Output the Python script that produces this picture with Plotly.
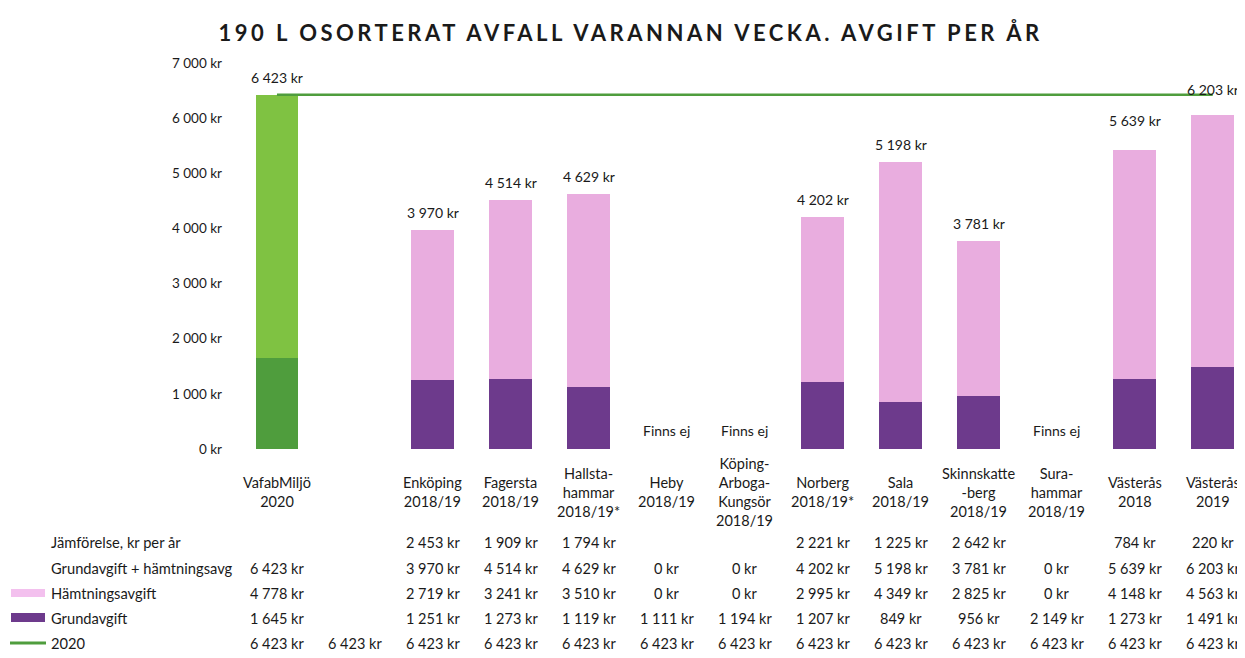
#######################################################
# plotly
import plotly.graph_objects as go

#######################################################
# data
kategorier = ["VafabMiljö<br>2020", "", "Enköping<br>2018/19", "Fagersta<br>2018/19",
              "Hallsta-<br>hammar<br>2018/19*", "Heby<br>2018/19",
              "Köping-<br>Arboga-<br>Kungsör<br>2018/19", "Norberg<br>2018/19*",
              "Sala<br>2018/19", "Skinnskatte<br>-berg<br>2018/19",
              "Sura-<br>hammar<br>2018/19", "Västerås<br>2018", "Västerås<br>2019"]
grundavgift = [1645, None, 1251, 1273, 1119, 1111, 1194, 1207, 849, 956, 2149, 1273, 1491]
hamtningsavgift = [4778, None, 2719, 3241, 3510, 0, 0, 2995, 4349, 2825, 0, 4148, 4563]
summa = [6423, None, 3970, 4514, 4629, 0, 0, 4202, 5198, 3781, 0, 5639, 6203]
jamforelse = [None, None, 2453, 1909, 1794, None, None, 2221, 1225, 2642, None, 784, 220]
avgift_2020 = [6423] * 13

FONT = "Lato"
TXT = "#1a1a1a"


def kr(v):
    # 6423 -> "6 423 kr"
    return f"{v:,}".replace(",", " ") + " kr"


def py(p):
    # pixel-rad -> paper y (plotyta 63..449 px)
    return (449 - p) / 386


def px_(p):
    # pixel-kolumn -> paper x (plotyta 235..1240 px)
    return (p - 235) / 1005


x = list(range(len(kategorier)))
finns = [s is not None and s > 0 for s in summa]

# staplar: grön för VafabMiljö, lila för övriga
grund_farg = ["#4f9d3d" if i == 0 else "#6d3a8c" for i in x]
hamt_farg = ["#7fc242" if i == 0 else "#e9addf" for i in x]

fig = go.Figure()

fig.add_trace(go.Bar(
    x=x,
    y=[g if f else None for g, f in zip(grundavgift, finns)],
    marker_color=grund_farg,
    marker_line_width=0,
    width=0.55,
    name="Grundavgift"
))
fig.add_trace(go.Bar(
    x=x,
    y=[h if f else None for h, f in zip(hamtningsavgift, finns)],
    marker_color=hamt_farg,
    marker_line_width=0,
    width=0.55,
    name="Hämtningsavgift"
))
fig.add_trace(go.Scatter(
    x=x,
    y=avgift_2020,
    mode="lines",
    line=dict(color="#4f9d3d", width=2.5),
    name="2020"
))

annotations = []

# summa ovanför staplar / "Finns ej"
for i, s in zip(x, summa):
    if s is None:
        continue
    if s > 0:
        annotations.append(dict(x=i, y=s, xref="x", yref="y", text=kr(s),
                                showarrow=False, yanchor="bottom", yshift=7,
                                font=dict(size=14, color=TXT, family=FONT)))
    else:
        annotations.append(dict(x=i, y=0, xref="x", yref="y", text="Finns ej",
                                showarrow=False, yanchor="bottom", yshift=8,
                                font=dict(size=14, color=TXT, family=FONT)))

# kategorietiketter
for i, k in zip(x, kategorier):
    if k:
        annotations.append(dict(x=i, y=py(492), xref="x", yref="paper", text=k,
                                showarrow=False, yanchor="middle",
                                font=dict(size=14.5, color=TXT, family=FONT)))

# tabell under diagrammet
rader = [
    ("Jämförelse, kr per år", jamforelse, 542),
    ("Grundavgift + hämtningsavg", summa, 568),
    ("Hämtningsavgift", hamtningsavgift, 593),
    ("Grundavgift", grundavgift, 618),
    ("2020", avgift_2020, 643),
]
for namn, varden, rad_y in rader:
    annotations.append(dict(x=px_(49), y=py(rad_y), xref="paper", yref="paper",
                            text=namn, showarrow=False, xanchor="left", yanchor="middle",
                            font=dict(size=14.7, color=TXT, family=FONT)))
    for i, v in zip(x, varden):
        if v is None:
            continue
        annotations.append(dict(x=i, y=py(rad_y), xref="x", yref="paper", text=kr(v),
                                showarrow=False, yanchor="middle",
                                font=dict(size=14.5, color=TXT, family=FONT)))

# legendsymboler i tabellen
shapes = [
    dict(type="rect", xref="paper", yref="paper", x0=px_(11), x1=px_(45),
         y0=py(597), y1=py(589), fillcolor="#f3c0ee", line_width=0),
    dict(type="rect", xref="paper", yref="paper", x0=px_(11), x1=px_(45),
         y0=py(622), y1=py(613), fillcolor="#6d3a8c", line_width=0),
    dict(type="line", xref="paper", yref="paper", x0=px_(10), x1=px_(46),
         y0=py(643), y1=py(643), line=dict(color="#4f9d3d", width=3)),
]

# sidan har 8 px marginal i body -> plotytan flyttas 8 px
fig.update_layout(title=dict(text='<span style="letter-spacing:3.5px">190 L OSORTERAT AVFALL VARANNAN VECKA. AVGIFT PER ÅR</span>',
                             x=0.5, xanchor="center", y=0.962, yanchor="middle",
                             font=dict(size=22, color=TXT, family=FONT, weight="bold")),
                  barmode="stack",
                  showlegend=False,
                  separators=", ",
                  width=1245,
                  height=658,
                  margin=dict(l=227, r=13, t=55, b=217),
                  paper_bgcolor="white",
                  plot_bgcolor="white",
                  font=dict(family=FONT, color=TXT),
                  annotations=annotations,
                  shapes=shapes)

fig.update_xaxes(range=[-0.538, 12.35], showticklabels=False, showgrid=False,
                 zeroline=False, showline=False, ticks="")
fig.update_yaxes(range=[0, 7000], dtick=1000, tickformat=",d", ticksuffix=" kr",
                 showgrid=False, zeroline=False, showline=False, ticks="",
                 ticklabelstandoff=12,
                 tickfont=dict(size=13.5, color=TXT, family=FONT))

fig.write_html("out.html")
